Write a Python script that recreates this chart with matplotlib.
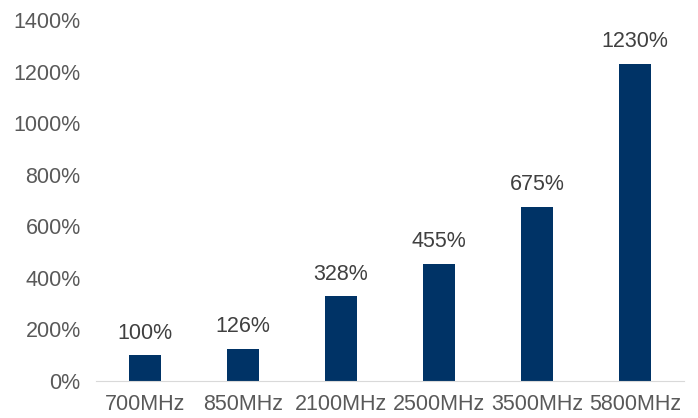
import matplotlib
matplotlib.use("Agg")
import matplotlib.pyplot as plt

categories = ["700MHz", "850MHz", "2100MHz", "2500MHz", "3500MHz", "5800MHz"]
values = [100, 126, 328, 455, 675, 1230]
yticks = [0, 200, 400, 600, 800, 1000, 1200, 1400]

plt.rcParams['font.family'] = ['Liberation Sans', 'DejaVu Sans']
fig = plt.figure(figsize=(6.98, 4.18), dpi=100)
ax = fig.add_axes([96/698, 37/418, 588/698, 361/418])
x = list(range(len(categories)))
ax.bar(x, values, width=0.32, color="#003366", zorder=2)
for xi, v in zip(x, values):
    ax.text(xi, v + 45, f"{v}%", ha="center", va="bottom", fontsize=15.5, color="#404040")
ax.set_xlim(-0.5, 5.5)
ax.set_ylim(0, 1400)
ax.set_yticks(yticks)
ax.set_yticklabels([f"{t}%" for t in yticks])
ax.set_xticks(x)
ax.set_xticklabels(categories)
for s in ["top", "right", "left"]:
    ax.spines[s].set_visible(False)
ax.spines["bottom"].set_color("#d9d9d9")
ax.tick_params(axis="both", length=0, labelsize=15.5, colors="#595959")
ax.tick_params(axis="x", pad=9)
ax.tick_params(axis="y", pad=11)
fig.savefig("out.png", dpi=100)
